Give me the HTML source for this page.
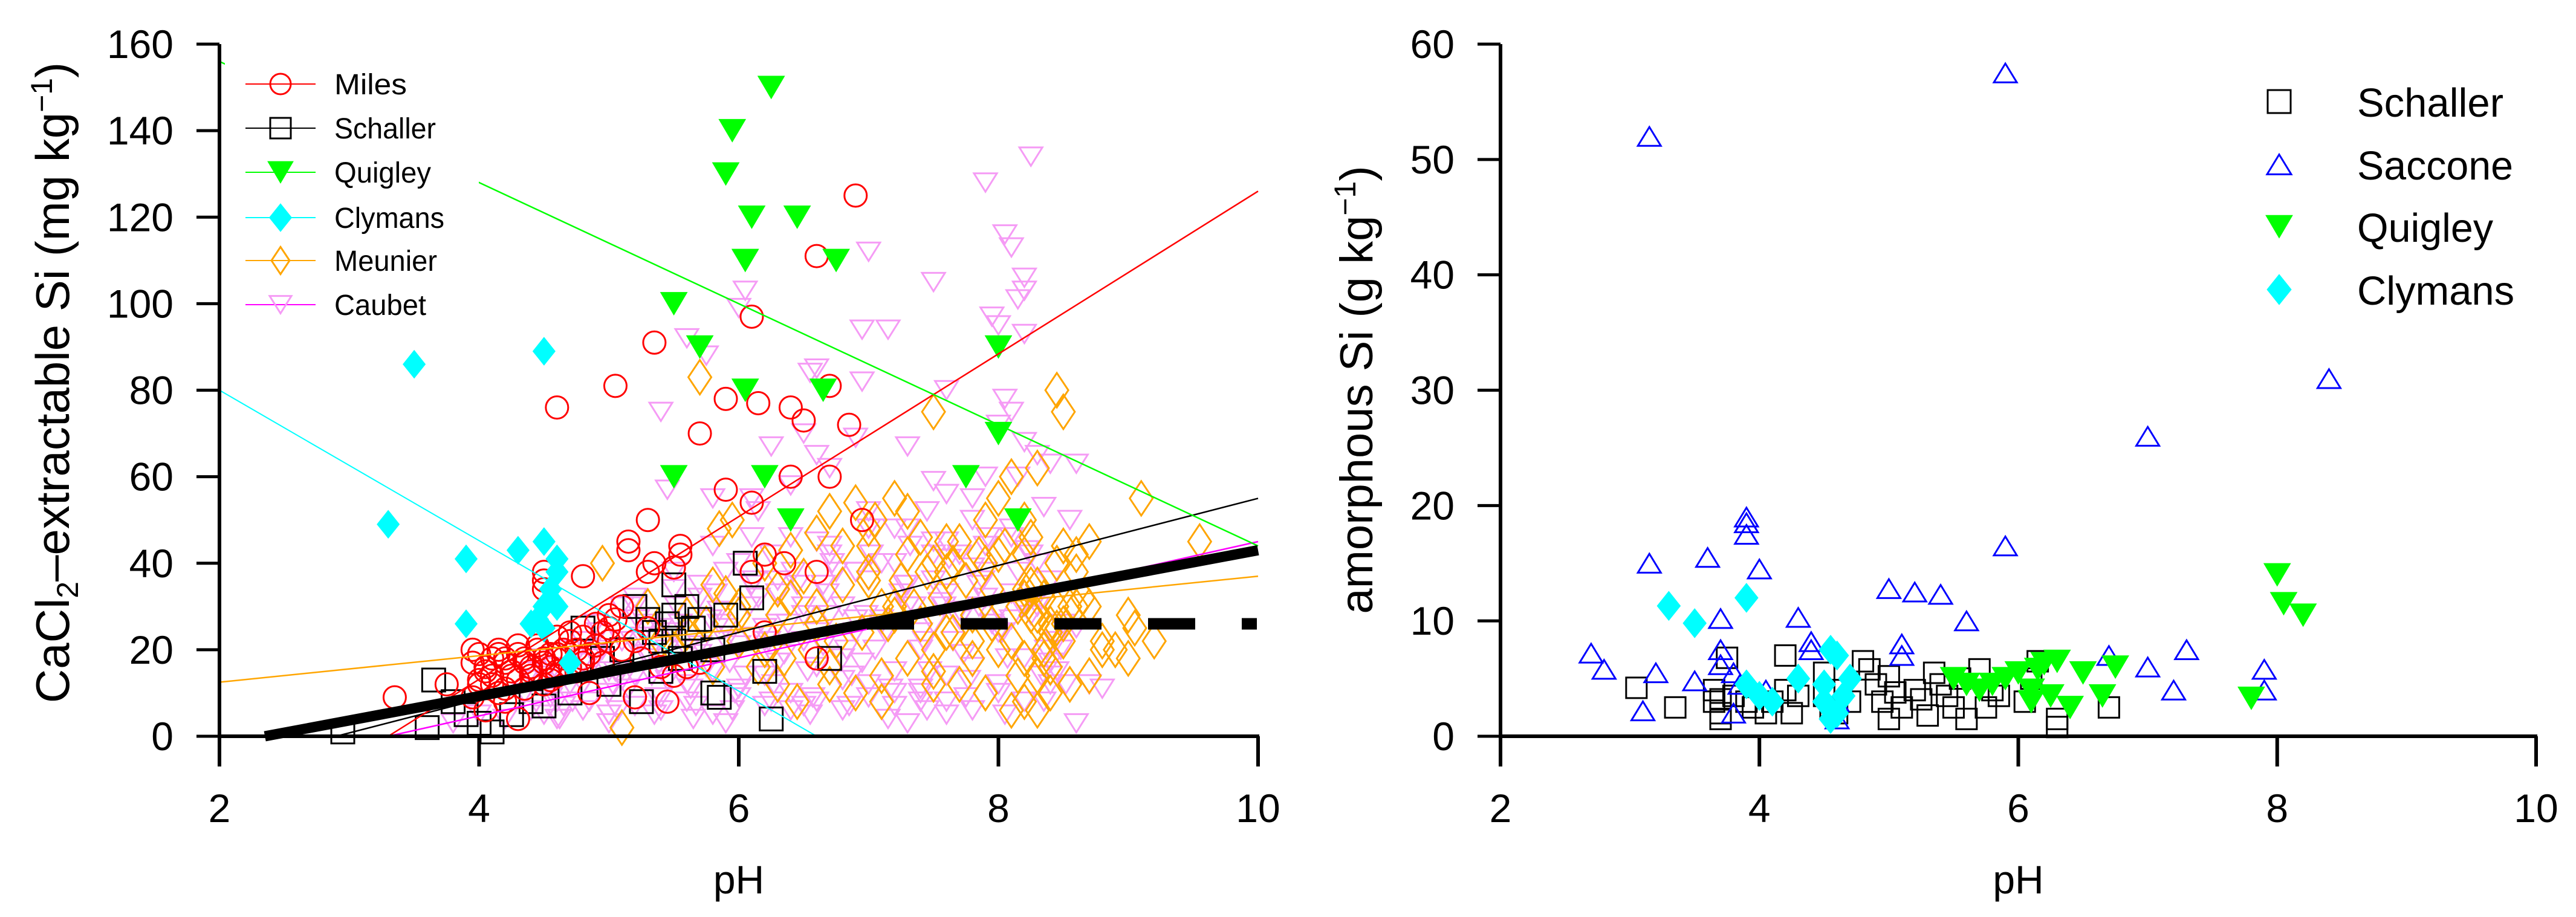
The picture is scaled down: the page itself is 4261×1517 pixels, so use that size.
<!DOCTYPE html>
<html><head><meta charset="utf-8"><style>
html,body{margin:0;padding:0;background:#fff;}
svg{display:block;font-family:"Liberation Sans",Arial,sans-serif;}
</style></head><body>
<svg id="chart" xmlns="http://www.w3.org/2000/svg" width="4261" height="1517" viewBox="0 0 4261 1517">
<rect width="4261" height="1517" fill="#fff"/>
<g id="left"></g>
<g id="right"></g>
</svg>
<script>
// ---------- LEFT PANEL DATA (pH, CaCl2-extractable Si mg/kg) ----------
const milesPH = [6.9,6.6,6.1,5.35,5.05,4.6,6.7,5.9,6.15,6.4,6.5,6.85,5.7,6.4,6.7,5.9,6.1,6.95,5.3,5.15,5.15,5.55,5.55,4.5,4.5,4.5,4.8,6.1,6.35,6.2,6.6,6.6,5.3,5.35,5.5,3.35,3.75,
 3.95,4.0,4.05,4.1,4.15,4.2,4.25,4.3,4.35,4.4,4.45,4.5,4.55,4.6,4.65,4.7,4.75,4.8,4.85,4.9,4.95,5.0,5.05,5.1,4.0,4.1,4.2,4.3,4.4,4.5,4.6,4.7,4.8,4.9,5.0,3.95,4.15,4.35,4.55,4.75,4.95,5.1,5.2,5.25,5.3,5.4,5.5,5.6,5.45,5.2,4.3,5.7,6.2,4.2,4.05,4.6,4.85,
 3.95,4.05,4.15,4.25,4.35,4.45,4.55,4.65,4.0,4.2,4.4,4.6,4.8,5.0,4.1,4.3,4.5,4.7,4.9];
const milesV  = [125,111,97,91,81,76,81,78,77,76,73,72,70,60,60,57,54,50,50,45,43,44,42,38,36,34,37,38,40,42,38,18,38,40,39,9,12,
 17,19,16,18,20,17,15,19,18,16,20,17,19,15,18,22,20,23,19,26,24,28,27,30,12,14,11,13,15,12,14,16,18,21,22,9,10,11,13,15,17,20,22,18,25,16,14,16,8,9,4,17,24,8,6,23,10,
 20,15,19,14,17,21,16,20,13,18,14,19,17,25,12,21,18,24,21];
const schPH = [3.65,3.8,3.9,4.0,4.1,2.95,5.4,5.5,5.6,5.65,5.7,5.8,5.9,6.05,6.1,6.2,6.25,6.7,5.8,5.85,5.2,5.3,4.8,4.7,4.5,4.4,5.0,5.25,5.4,5.5,5.5,3.6,4.25,4.95,5.1,5.55,5.45,5.35];
const schV  = [13,8,5,3,1,1,22,28,30,25,27,20,28,40,32,15,4,18,10,9,30,27,25,10,7,8,12,8,15,22,35,2,5,18,20,18,26,24];
const quiPH = [6.25,5.95,5.9,6.1,6.45,6.05,6.75,5.5,5.7,8.0,6.05,6.65,8.0,5.5,6.2,7.75,6.4,8.15];
const quiV  = [150,140,130,120,120,110,110,100,90,90,80,80,70,60,60,60,50,50];
const clyPH = [3.5,4.5,3.3,3.9,4.3,4.5,4.6,4.6,4.5,4.45,4.6,3.9,4.5,4.4,4.7,4.55];
const clyV  = [86,89,49,41,43,45,41,38,30,27,30,26,25,26,17,34];
const meuPH = [5.7,8.45,8.5,7.5,9.1,9.55,9.2,9.05,8.8,8.65,8.3,8.0,7.2,7.05,6.9,6.7,6.6,6.4,5.95,5.85,5.3,4.95,5.1,6.0,6.3,5.9,7.7,7.9,8.1,8.7,8.6,8.2,7.5,7.3,7.0,6.8,6.5,
 7.1,7.2,7.4,7.6,7.8,8.0,8.2,8.4,8.3,8.35,8.25,8.45,8.5,8.15,7.95,7.75,7.55,7.35,7.15,6.95,6.75,6.55,6.35,6.15,5.6,5.4,8.55,8.4,8.3,8.2,8.1,7.9,7.7,7.5,7.3,7.1,6.9,6.7,6.45,6.2,5.8,5.5,8.6,8.45,8.3,8.7,8.9,9.0,7.85,7.65,7.45,7.25,6.6,6.3,6.0,5.75,8.05,8.25,8.35,7.0];
const meuV  = [83,80,75,75,55,45,22,25,22,32,62,55,55,50,54,52,47,43,50,48,30,40,2,30,28,33,45,50,60,45,42,42,40,42,38,35,37,
 30,28,26,24,22,20,18,16,28,32,35,25,22,30,34,36,32,30,26,24,22,20,18,16,24,22,12,10,14,8,6,10,12,15,18,14,10,12,8,20,16,20,38,30,26,30,20,18,42,40,38,36,30,34,28,26,44,46,20,44];
const meu2PH = [5.6,5.8,6.0,6.2,6.4,6.6,6.8,7.0,7.2,7.4,7.6,7.8,8.0,8.2,8.4,8.6,8.8,
 7.5,7.65,7.8,7.95,8.1,8.25,8.4,8.55,8.3,8.35,8.45,8.5,8.2,8.15,
 6.3,6.7,7.1,7.5,7.9,8.3,8.7,9.0, 7.0,7.3,7.6,7.9,8.2,8.5];
const meu2V  = [28,35,22,40,32,26,44,36,30,46,38,28,42,34,26,30,20,
 20,24,18,26,22,28,24,30,35,18,40,26,32,14,
 12,16,8,12,10,6,14,28, 48,52,45,40,50,44];
const caubPH = [8.25,7.9,7.0,8.05,8.1,8.2,7.5,8.2,8.15,7.95,8.0,8.2,7.15,6.95,6.05,6.05,6.0,5.75,5.6,5.4,6.55,6.6,6.95,7.6,8.05,8.1,8.0,6.9,6.25,6.5,6.6,7.3,8.3,8.4,8.6,5.45,5.8,6.15,7.5,7.8,8.35,8.55,8.6,8.45,8.6,8.7,8.8,7.6,7.4,7.3,7.2,6.5,5.9,5.0,4.5,4.2,3.8,4.0,
 4.6,4.8,5.0,5.2,5.4,5.6,5.8,6.0,6.2,6.4,6.6,6.8,7.0,7.2,7.4,7.6,7.8,8.0,8.2,8.4,4.7,4.9,5.1,5.3,5.5,5.7,5.9,6.1,6.3,6.5,6.7,6.9,7.1,7.3,7.5,7.7,7.9,8.1,8.3,8.5,
 4.6,4.8,5.0,5.2,5.4,5.6,5.8,6.0,6.2,6.4,6.6,6.8,7.0,7.2,7.4,7.6,7.8,8.0,8.2,8.4,5.1,5.5,5.9,6.3,6.7,7.1,7.5,7.9,8.3,5.3,5.7,6.1,6.5,6.9,7.3,7.7,8.1,5.6,6.2,6.8,7.4,8.0,7.0,7.6,8.15,6.4,5.2,4.4];
const caubV  = [134,128,112,116,113,106,105,103,101,97,95,93,94,94,103,110,99,88,92,75,84,85,82,80,78,75,72,69,67,70,65,67,65,63,63,57,55,52,59,55,53,50,25,15,3,12,11,5,8,3,10,7,3,5,5,4,3,5,
 8,12,10,14,9,12,15,11,14,10,16,13,12,15,11,14,16,12,18,14,20,18,22,19,24,21,25,23,26,22,28,24,27,30,26,29,32,27,30,25,
 4,6,5,7,6,8,5,9,7,6,8,6,9,7,10,8,6,10,8,12,30,34,38,36,42,40,45,44,40,26,32,35,30,38,35,42,48,20,22,18,20,24,48,45,60,46,30,15];
const caub2PH = [4.4,4.55,4.7,4.85,5.0,5.15,5.3,5.45,5.6,5.75,5.9,6.05,6.2,6.35,6.5,6.65,6.8,6.95,7.1,7.25,7.4,7.55,7.7,7.85,8.0,8.15,8.3,8.45,
 4.47,4.62,4.77,4.92,5.07,5.22,5.37,5.52,5.67,5.82,5.97,6.12,6.27,6.42,6.57,6.72,6.87,7.02,7.17,7.32,7.47,7.62,7.77,7.92,8.07,8.22,8.37,8.52,
 4.5,4.8,5.1,5.4,5.7,6.0,6.3,6.6,6.9,7.2,7.5,7.8,8.1,8.4,
 5.0,5.35,5.65,5.95,6.25,6.55,6.85,7.15,7.45,7.75,8.05,8.35,
 6.1,6.4,6.7,7.0,7.3,7.6,7.9,8.2];
const caub2V  = [6,9,12,8,15,11,18,13,20,16,22,14,25,19,28,21,30,17,26,33,24,31,27,35,29,38,32,22,
 18,4,20,24,6,27,9,30,7,33,10,36,12,38,9,40,14,42,11,44,15,41,13,46,18,43,20,12,
 14,22,30,25,35,40,33,45,38,48,42,50,46,36,
 3,5,4,6,8,5,7,4,6,9,5,8,
 55,58,62,52,48,56,60,68];
const caub3PH = [4.35,4.5,4.65,4.8,4.95,5.1,5.25,5.4,5.55,5.7,5.85,6.0,6.15,6.3,6.45,6.6,6.75,6.9,7.05,7.2,7.35,7.5,7.65,7.8,7.95,8.1,8.25,8.4,
 4.42,4.58,4.72,4.88,5.03,5.18,5.33,5.48,5.63,5.78,5.93,6.08,6.23,6.38,6.53,6.68,6.83,6.98,7.13,7.28,7.43,7.58,7.73,7.88,8.03,8.18,8.33,8.48,
 4.9,5.2,5.5,5.8,6.1,6.4,6.7,7.0,7.3,7.6,7.9,8.2,8.5,
 5.05,5.45,5.85,6.25,6.65,7.05,7.45,7.85,8.25];
const caub3V  = [10,14,7,17,20,13,23,16,26,19,29,21,32,17,35,24,38,27,20,40,30,36,22,39,26,33,28,17,
 13,16,8,19,12,22,14,24,11,27,17,30,22,26,15,33,20,28,24,35,22,30,19,36,24,30,14,20,
 26,32,38,44,46,50,44,36,30,33,38,30,26,
 15,20,26,42,35,48,52,30,42];

// regression lines [pH0, v0, pH1, v1]
const lineMiles  = [3.3,0,10,126];
const lineSch    = [2.9,0,10,55];
const lineQui    = [2,156,10,44];
const lineCly    = [2,80,6.6,0];
const lineMeu    = [2,12.5,10,37];
const lineCaub   = [3.3,0,10,45];
const lineAll    = [2.35,0,10,43];
const lineMean   = [6.5,26,10,26];

const xTicks = [2,4,6,8,10];
const yTicksL = [0,20,40,60,80,100,120,140,160];
const yTicksR = [0,10,20,30,40,50,60];

// ---------- RIGHT PANEL DATA (pH, amorphous Si g/kg) ----------
const sacPH = [5.9,3.15,8.4,7.0,3.9,3.9,3.9,5.9,3.15,3.6,4.0,5.0,5.2,5.4,5.6,3.7,4.3,4.4,4.4,5.1,5.1,2.7,2.8,3.2,3.5,3.7,3.7,3.8,3.1,3.85,4.05,3.8,6.7,7.0,7.3,7.2,7.9,7.9,4.6,4.6];
const sacV  = [57.5,52,31,26,19,18.5,17.5,16.5,15,15.5,14.5,12.8,12.5,12.3,10,10.2,10.3,8.2,7.5,8,7,7.2,5.8,5.5,4.8,7.5,6.2,5.5,2.2,4.5,4,2,7,6,7.5,4,5.8,4,1.5,3];
const schRPH = [3.05,3.35,3.65,3.65,3.7,3.7,3.75,3.8,3.9,3.95,4.05,4.1,4.2,4.2,4.25,4.5,4.5,4.55,4.6,4.7,4.8,4.85,4.9,4.95,5.0,5.0,5.05,5.1,5.2,5.25,5.3,5.35,5.4,5.45,5.5,5.55,5.6,5.7,5.75,5.8,5.85,6.05,6.1,6.15,6.3,6.3,6.7,4.3,4.6,3.7];
const schRV  = [4.2,2.5,4,3,2,1.5,6.8,3.5,3,2.5,2,3,7,4,2,5.5,3.5,2.5,4,3,6.5,5.8,4.5,3,1.5,5.2,3.8,2.5,4,3.2,1.8,5.5,4.5,3.5,2.5,5,1.5,5.8,2.5,4,3.5,3,5,6.5,1.5,0.8,2.5,3.5,2,3.2];
const quiRPH = [8.0,8.05,8.2,7.8,5.5,5.6,5.7,5.8,5.9,6.0,6.1,6.15,6.2,6.25,6.4,6.5,6.65,6.75,6.3,6.1];
const quiRV  = [14,11.5,10.5,3.3,5,4.5,4,4.5,5,5.5,4,5.8,6.3,3.5,2.5,5.5,3.5,6,6.5,3];
const clyRPH = [3.3,3.5,3.9,3.9,4.0,4.1,4.3,4.5,4.5,4.55,4.6,4.6,4.65,4.7,4.55];
const clyRV  = [11.3,9.8,12,4.5,3.5,3,5,4.5,3,7.5,7,2,3.5,5,1.5];

const NS='http://www.w3.org/2000/svg';
function mk(tag, attrs, parent){const e=document.createElementNS(NS,tag);for(const k in attrs)e.setAttribute(k,attrs[k]);parent.appendChild(e);return e;}

const L={x0:363,x1:2081,y0:1218,y1:73,ymax:160};
const R={x0:2482,x1:4195,y0:1218,y1:73,ymax:60};
function sx(P,v){return P.x0+(v-2)/8*(P.x1-P.x0);}
function sy(P,v){return P.y0-v/P.ymax*(P.y0-P.y1);}

function marker(g,type,cx,cy,s,color){
  let e;
  if(type==='circle'){e=mk('circle',{cx:cx,cy:cy,r:s/2,fill:'none',stroke:color,'stroke-width':3},g);}
  else if(type==='square'){e=mk('rect',{x:cx-s/2,y:cy-s/2,width:s,height:s,fill:'none',stroke:color,'stroke-width':3},g);}
  else if(type==='tridown'){const h=s*0.8;e=mk('polygon',{points:`${cx-s/2},${cy-h/2} ${cx+s/2},${cy-h/2} ${cx},${cy+h/2}`,fill:'none',stroke:color,'stroke-width':3},g);}
  else if(type==='tridownf'){const h=s*0.85;e=mk('polygon',{points:`${cx-s/2},${cy-h/2} ${cx+s/2},${cy-h/2} ${cx},${cy+h/2}`,fill:color,stroke:color,'stroke-width':1},g);}
  else if(type==='triup'){const h=s*0.82;e=mk('polygon',{points:`${cx-s/2},${cy+h/2} ${cx+s/2},${cy+h/2} ${cx},${cy-h/2}`,fill:'none',stroke:color,'stroke-width':3},g);}
  else if(type==='diamond'){const h=s*1.5;e=mk('polygon',{points:`${cx},${cy-h/2} ${cx+s/2},${cy} ${cx},${cy+h/2} ${cx-s/2},${cy}`,fill:'none',stroke:color,'stroke-width':3},g);}
  else if(type==='diamondf'){const h=s*1.0;e=mk('polygon',{points:`${cx},${cy-h/2} ${cx+s*0.4},${cy} ${cx},${cy+h/2} ${cx-s*0.4},${cy}`,fill:color,stroke:color,'stroke-width':1},g);}
  return e;
}
function series(parent,P,xs,ys,type,s,color,name){
  const g=mk('g',{},parent);
  
  
  for(let i=0;i<xs.length;i++){
    const m=marker(g,type,sx(P,xs[i]),sy(P,ys[i]),s,color);
    
    
  }
}
function fitLine(parent,P,a,color,w,name,dash){
  const l=mk('line',{x1:sx(P,a[0]),y1:sy(P,a[1]),x2:sx(P,a[2]),y2:sy(P,a[3]),stroke:color,'stroke-width':w},parent);
  if(dash){l.setAttribute('stroke-dasharray',dash);}
  
  
}
function axes(parent,P,yTicks,title,tx,ty,fs){
  const g=mk('g',{},parent);
  
  
  mk('line',{x1:P.x0,y1:P.y0,x2:P.x1+2,y2:P.y0,stroke:'#000','stroke-width':6},g);
  mk('line',{x1:P.x0,y1:P.y0+3,x2:P.x0,y2:P.y1,stroke:'#000','stroke-width':6},g);
  xTicks.forEach(t=>{
    const x=sx(P,t);
    mk('line',{x1:x,y1:P.y0,x2:x,y2:P.y0+50,stroke:'#000','stroke-width':6},g);
    const tx_=mk('text',{x:x,y:1360,'font-size':66,'text-anchor':'middle',fill:'#000'},g);
    tx_.textContent=t;
    
    
  });
  yTicks.forEach(t=>{
    const y=sy(P,t);
    mk('line',{x1:P.x0-38,y1:y,x2:P.x0,y2:y,stroke:'#000','stroke-width':5},g);
    const ty_=mk('text',{x:P.x0-76,y:y+23,'font-size':66,'text-anchor':'end',fill:'#000'},g);
    ty_.textContent=t;
    
    
  });
  const xl=mk('text',{x:(P.x0+P.x1)/2,y:1478,'font-size':66,'text-anchor':'middle',fill:'#000'},g);
  xl.textContent='pH';
  
  
  const yl=mk('text',{x:0,y:0,'font-size':fs,'text-anchor':'middle',fill:'#000',transform:`translate(${tx},${ty}) rotate(-90)`},g);
  yl.innerHTML=title;
  
  
}
function legendItem(parent,mx,my,tx,ty,label,type,s,color,fs,tl,line){
  const g=mk('g',{},parent);
  
  
  if(line){mk('line',{x1:mx-58,y1:my,x2:mx+58,y2:my,stroke:color,'stroke-width':2},g);}
  marker(g,type,mx,my,s,color);
  const t=mk('text',{x:tx,y:ty,'font-size':fs,fill:'#000',textLength:tl,lengthAdjust:'spacingAndGlyphs'},g);
  t.textContent=label;
}

// ---------- LEFT ----------
const gl=document.getElementById('left');
const pink='#f59bf5', orange='#ffa500';
series(gl,L,caubPH,caubV,'tridown',38,pink,'caubet-series');
series(gl,L,caub2PH,caub2V,'tridown',38,pink,'caubet-series-dense');
series(gl,L,caub3PH,caub3V,'tridown',38,pink,'caubet-series-core');
series(gl,L,meuPH,meuV,'diamond',38,orange,'meunier-series');
series(gl,L,meu2PH,meu2V,'diamond',38,orange,'meunier-series-dense');
series(gl,L,schPH,schV,'square',38,'#000','schaller-series');
series(gl,L,milesPH,milesV,'circle',37,'#ff0000','miles-series');
series(gl,L,clyPH,clyV,'diamondf',46,'#00ffff','clymans-series');
series(gl,L,quiPH,quiV,'tridownf',44,'#00ff00','quigley-series');
fitLine(gl,L,lineCly,'#00ffff',2,'clymans-fit');
fitLine(gl,L,lineMeu,orange,2.5,'meunier-fit');
fitLine(gl,L,lineCaub,'#ff00ff',2.5,'caubet-fit');
fitLine(gl,L,lineSch,'#000',2.5,'schaller-fit');
fitLine(gl,L,lineMiles,'#ff0000',2.5,'miles-fit');
fitLine(gl,L,lineQui,'#00ff00',2.5,'quigley-fit');
fitLine(gl,L,lineAll,'#000',17,'overall-fit');
(function(){const l=mk('line',{x1:1434,y1:sy(L,lineMean[1]),x2:L.x1-2,y2:sy(L,lineMean[3]),stroke:'#000','stroke-width':19,'stroke-dasharray':'78 77'},gl);
})();
const lg=mk('g',{},gl);


mk('rect',{x:372,y:100,width:420,height:440,fill:'#fff'},lg);
const leg=[['Miles','circle',34,'#ff0000',120],['Schaller','square',34,'#000',168],['Quigley','tridownf',42,'#00ff00',160],['Clymans','diamondf',46,'#00ffff',182],['Meunier','diamond',30,orange,170],['Caubet','tridown',36,pink,152]];
const legY=[139,212,285,360,431,504];
leg.forEach((d,i)=>{legendItem(lg,464,legY[i],553,legY[i]+17,d[0],d[1],d[2],d[3],48,d[4],true);});
lg.lastChild.firstChild.setAttribute('stroke','#ff00ff');
axes(gl,L,yTicksL,'CaCl<tspan font-size="50" dy="15">2</tspan><tspan dy="-15">–extractable Si (mg kg</tspan><tspan font-size="50" dy="-28">−1</tspan><tspan dy="28">)</tspan>',114,633,78);

// ---------- RIGHT ----------
const gr=document.getElementById('right');
series(gr,R,schRPH,schRV,'square',34,'#000','schaller-amorphous-series');
series(gr,R,sacPH,sacV,'triup',38,'#0000ff','saccone-series');
series(gr,R,quiRPH,quiRV,'tridownf',44,'#00ff00','quigley-amorphous-series');
series(gr,R,clyRPH,clyRV,'diamondf',48,'#00ffff','clymans-amorphous-series');
const rg=mk('g',{},gr);


const legR=[['Schaller','square',38,'#000',242],['Saccone','triup',40,'#0000ff',258],['Quigley','tridownf',44,'#00ff00',225],['Clymans','diamondf',50,'#00ffff',260]];
const legRY=[168,272,375,479];
legR.forEach((d,i)=>{legendItem(rg,3770,legRY[i],3899,legRY[i]+25,d[0],d[1],d[2],d[3],67,d[4],false);});
axes(gr,R,yTicksR,'amorphous Si (g kg<tspan font-size="50" dy="-28">−1</tspan><tspan dy="28">)</tspan>',2270,645,76);
</script>
</body></html>
